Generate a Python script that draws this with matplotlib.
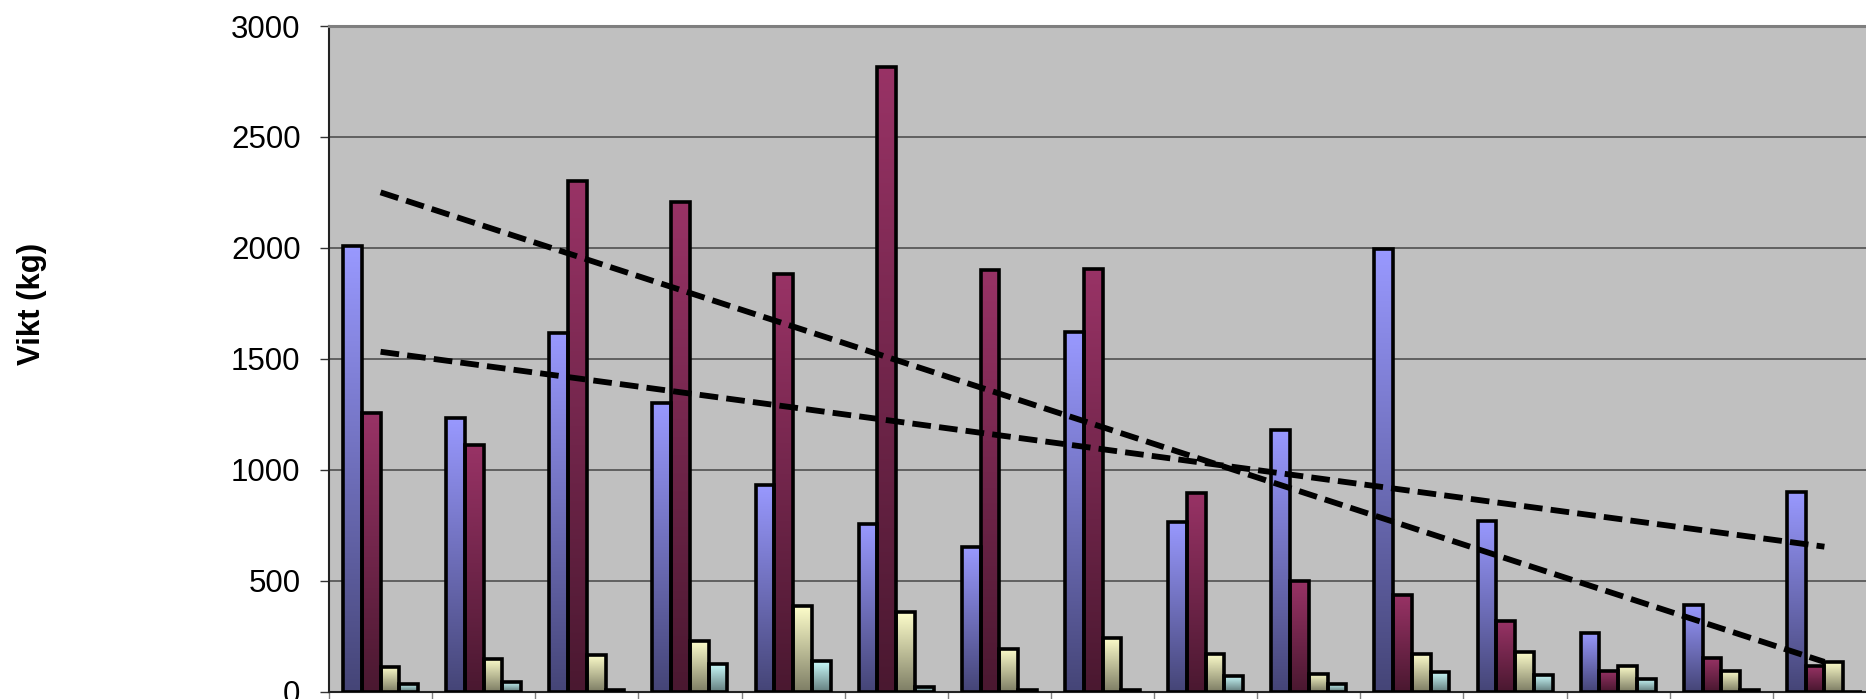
import matplotlib
matplotlib.use("Agg")
import matplotlib.pyplot as plt
from matplotlib.colors import LinearSegmentedColormap
import numpy as np

plt.rcParams['font.family'] = ['Liberation Sans', 'DejaVu Sans']

# values (kg), 15 groups, 4 series
groups = list(range(1, 16))
serie_blue = [2010, 1235, 1616, 1300, 932, 757, 650, 1622, 765, 1177, 1994, 769, 262, 392, 901]
serie_red = [1256, 1109, 2300, 2207, 1883, 2815, 1901, 1905, 895, 497, 435, 316, 93, 151, 113]
serie_yellow = [109, 147, 163, 229, 384, 360, 193, 243, 169, 80, 171, 179, 113, 93, 131]
serie_cyan = [32, 42, 5, 123, 137, 22, 5, 8, 70, 32, 87, 76, 58, 6, 0]
yticks = [0, 500, 1000, 1500, 2000, 2500, 3000]

series = [serie_blue, serie_red, serie_yellow, serie_cyan]
# (bottom colour, top colour) for the gradient fill
grad = [("#454577", "#9999FF"),
        ("#4A1830", "#993366"),
        ("#7F7F66", "#FFFFCC"),
        ("#668080", "#CCFFFF")]

fig = plt.figure(figsize=(18.66, 6.99), dpi=100)
ax = fig.add_axes([329 / 1866, 7.5 / 699, 1547 / 1866, 665.5 / 699])
ax.set_facecolor("#C0C0C0")

x = np.arange(len(groups))
w = 1 / 5.5
offsets = [-1.5 * w, -0.5 * w, 0.5 * w, 1.5 * w]
ramp = np.linspace(0, 1, 256).reshape(-1, 1)

for vals, off, (c0, c1) in zip(series, offsets, grad):
    cmap = LinearSegmentedColormap.from_list("g", [c0, c1])
    for xi, v in zip(x, vals):
        if v <= 0:
            continue
        ax.imshow(ramp, cmap=cmap, origin="lower", aspect="auto",
                  extent=[xi + off - w / 2, xi + off + w / 2, 0, v], zorder=2)
    ax.bar(x + off, vals, width=w, facecolor="none", edgecolor="black",
           linewidth=2.6, zorder=3)

# linear trend lines of the first two series
for vals in (serie_blue, serie_red):
    k, m = np.polyfit(x, vals, 1)
    ax.plot(x, k * x + m, color="black", linewidth=4.2, linestyle=(0, (3.2, 1.4)),
            zorder=4)

ax.set_xlim(-0.5, len(groups) - 0.5)
ax.set_ylim(0, 3000)
ax.set_yticks(yticks)
ax.set_yticklabels([str(t) for t in yticks], fontsize=22.5)
ax.set_xticks(np.arange(-0.5, len(groups)))
ax.set_xticklabels([])
ax.tick_params(axis="y", direction="out", length=6.5, width=1, color="#333333", pad=14)
ax.tick_params(axis="x", direction="out", length=6, width=1, color="#808080")
ax.yaxis.grid(True, color="#505050", linewidth=1.2, zorder=1)
ax.set_axisbelow(True)

ax.spines["left"].set_color("#222222")
ax.spines["left"].set_linewidth(1.5)
ax.spines["bottom"].set_color("#222222")
ax.spines["bottom"].set_linewidth(1.5)
ax.spines["top"].set_color("#7F7F7F")
ax.spines["top"].set_linewidth(2.2)
ax.spines["right"].set_color("#7F7F7F")

fig.text(32 / 1866, 0.565, "Vikt (kg)", rotation=90, fontsize=22.5,
         fontweight="bold", ha="center", va="center")

fig.savefig("out.png", dpi=100)
